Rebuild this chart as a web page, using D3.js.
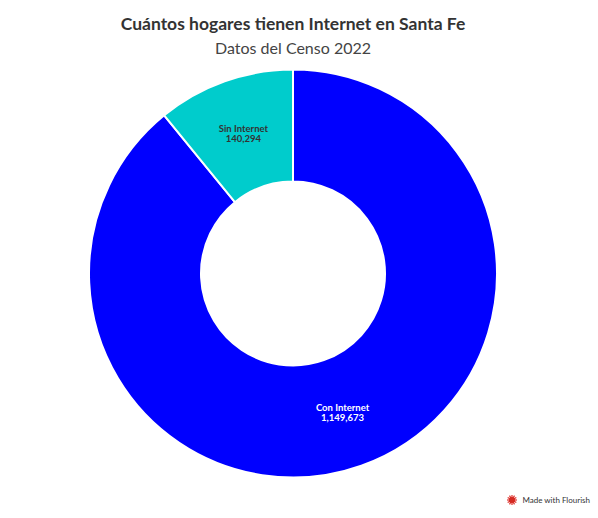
<!DOCTYPE html>
<html><head><meta charset="utf-8">
<script src="https://cdn.jsdelivr.net/npm/d3@7"></script>
<style>html,body{margin:0;padding:0;background:#fff;}svg{display:block;}</style>
</head><body>
<svg id="c" width="598" height="518"></svg>
<script>
const categories = ["Con Internet", "Sin Internet"];
const values = [1149673, 140294];
const colors = ["#0000ff", "#00cccc"];
const labelColors = ["#ffffff", "#333333"];
const title = "Cuántos hogares tienen Internet en Santa Fe";
const subtitle = "Datos del Censo 2022";

const svg = d3.select("#c");
const cx = 293, cy = 273.5, R = 204, r = 92;
const font = "'Source Sans Pro', Lato, 'Open Sans', sans-serif";

svg.append("text").attr("x", 293).attr("y", 30).attr("text-anchor", "middle")
  .style("font-family", font).style("font-weight", 700).style("font-size", "17.5px").attr("fill", "#333")
  .text(title);
svg.append("text").attr("x", 293).attr("y", 54).attr("text-anchor", "middle")
  .style("font-family", font).style("font-weight", 400).style("font-size", "16px").attr("fill", "#444")
  .text(subtitle);

const data = categories.map((c, i) => ({ name: c, value: values[i], color: colors[i], lc: labelColors[i] }));
const pie = d3.pie().sort(null).value(d => d.value);
const arc = d3.arc().innerRadius(r).outerRadius(R);
const g = svg.append("g").attr("transform", `translate(${cx},${cy})`);
const arcs = pie(data);
g.selectAll("path").data(arcs).join("path")
  .attr("d", arc).attr("fill", d => d.data.color)
  .attr("stroke", "#fff").attr("stroke-width", 2);

const fmt = d3.format(",");
const lab = g.selectAll("text.l").data(arcs).join("text").attr("class", "l")
  .attr("transform", d => `translate(${arc.centroid(d)})`)
  .attr("text-anchor", "middle")
  .style("font-family", font).style("font-weight", 700).style("font-size", "9.5px")
  .attr("fill", d => d.data.lc);
lab.append("tspan").attr("x", 0).attr("dy", "-0.25em").text(d => d.data.name);
lab.append("tspan").attr("x", 0).attr("dy", "1.05em").text(d => fmt(d.data.value));

// Flourish credit
const fg = svg.append("g").attr("transform", "translate(512,500)");
for (let i = 0; i < 12; i++) {
  const a = i * Math.PI / 6;
  fg.append("line").attr("x1", 0).attr("y1", 0)
    .attr("x2", 5 * Math.cos(a)).attr("y2", 5 * Math.sin(a))
    .attr("stroke", "#e0302a").attr("stroke-width", 1.2);
}
fg.append("circle").attr("r", 3).attr("fill", "#d42a22");
fg.append("text").attr("x", 78).attr("y", 3)
  .attr("text-anchor", "end")
  .style("font-family", font).style("font-size", "8px").attr("fill", "#333")
  .text("Made with Flourish");
</script>
</body></html>
